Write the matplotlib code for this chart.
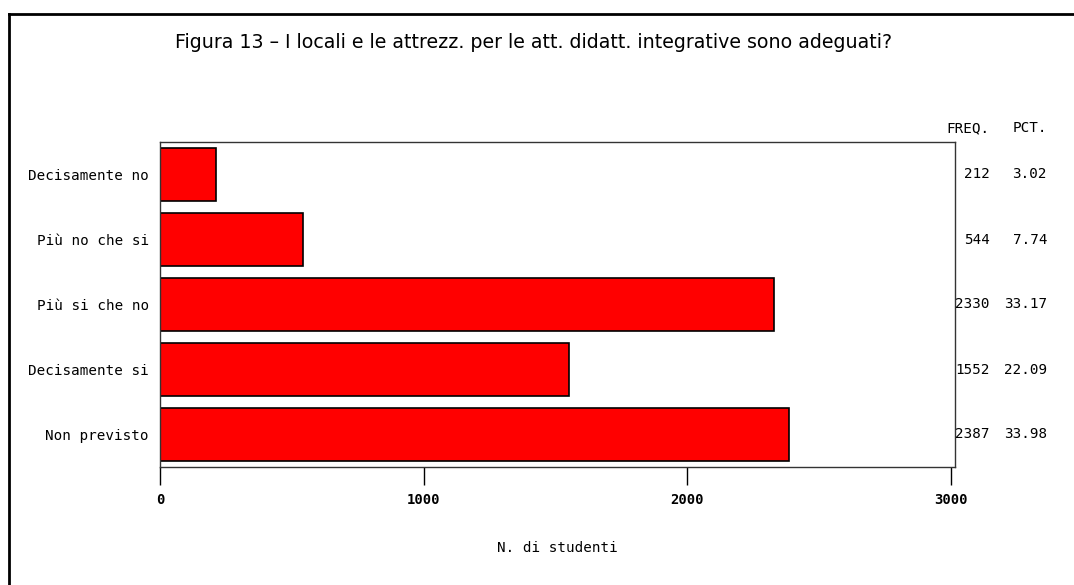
import matplotlib
matplotlib.use("Agg")
import matplotlib.pyplot as plt
from matplotlib.lines import Line2D
from matplotlib.transforms import blended_transform_factory

# data
categories = ["Decisamente no", "Più no che si", "Più si che no", "Decisamente si", "Non previsto"]
freq = [212, 544, 2330, 1552, 2387]
pct = [3.02, 7.74, 33.17, 22.09, 33.98]
xticks = [0, 1000, 2000, 3000]

W, H = 1074, 585
fig = plt.figure(figsize=(W / 100, H / 100), dpi=100)
ax = fig.add_axes([160 / W, 1 - 467 / H, (955 - 160) / W, (467 - 142) / H])

mono = "DejaVu Sans Mono"

ypos = list(range(len(categories)))
ax.barh(ypos, freq, height=0.83, color="#ff0000", edgecolor="black", linewidth=1.2)
ax.set_ylim(len(categories) - 0.5, -0.5)
ax.set_xlim(0, 3016)

ax.set_yticks(ypos)
ax.set_yticklabels(categories, family=mono, fontsize=10.3)
ax.tick_params(axis="y", length=0, pad=8)
ax.set_xticks(xticks)
ax.set_xticklabels([str(t) for t in xticks], family=mono, fontsize=10, fontweight="bold")
ax.tick_params(axis="x", length=13, width=1, pad=6, direction="out")
ax.set_xlabel("N. di studenti", family=mono, fontsize=10.3, labelpad=24)

for s in ax.spines.values():
    s.set_linewidth(1)
    s.set_color("#333333")

# FREQ / PCT columns
tr = blended_transform_factory(fig.transFigure, ax.transData)
for i in ypos:
    ax.text(990 / W, i, str(freq[i]), transform=tr, ha="right", va="center", family=mono, fontsize=10.3)
    ax.text(1047 / W, i, "%.2f" % pct[i], transform=tr, ha="right", va="center", family=mono, fontsize=10.3)
fig.text(990 / W, 1 - 128 / H, "FREQ.", ha="right", va="center", family=mono, fontsize=10.3)
fig.text(1047 / W, 1 - 128 / H, "PCT.", ha="right", va="center", family=mono, fontsize=10.3)

fig.text(0.497, 1 - 42 / H, "Figura 13 – I locali e le attrezz. per le att. didatt. integrative sono adeguati?",
         ha="center", va="center", family=["Liberation Sans Narrow", "DejaVu Sans"], fontsize=13.7)

# outer border (left and top only visible)
fig.add_artist(Line2D([8.5 / W, 8.5 / W], [0, 1 - 13.5 / H], transform=fig.transFigure, color="black", lw=2))
fig.add_artist(Line2D([8.5 / W, 1], [1 - 13.5 / H, 1 - 13.5 / H], transform=fig.transFigure, color="black", lw=2))

fig.savefig("out.png", dpi=100)
